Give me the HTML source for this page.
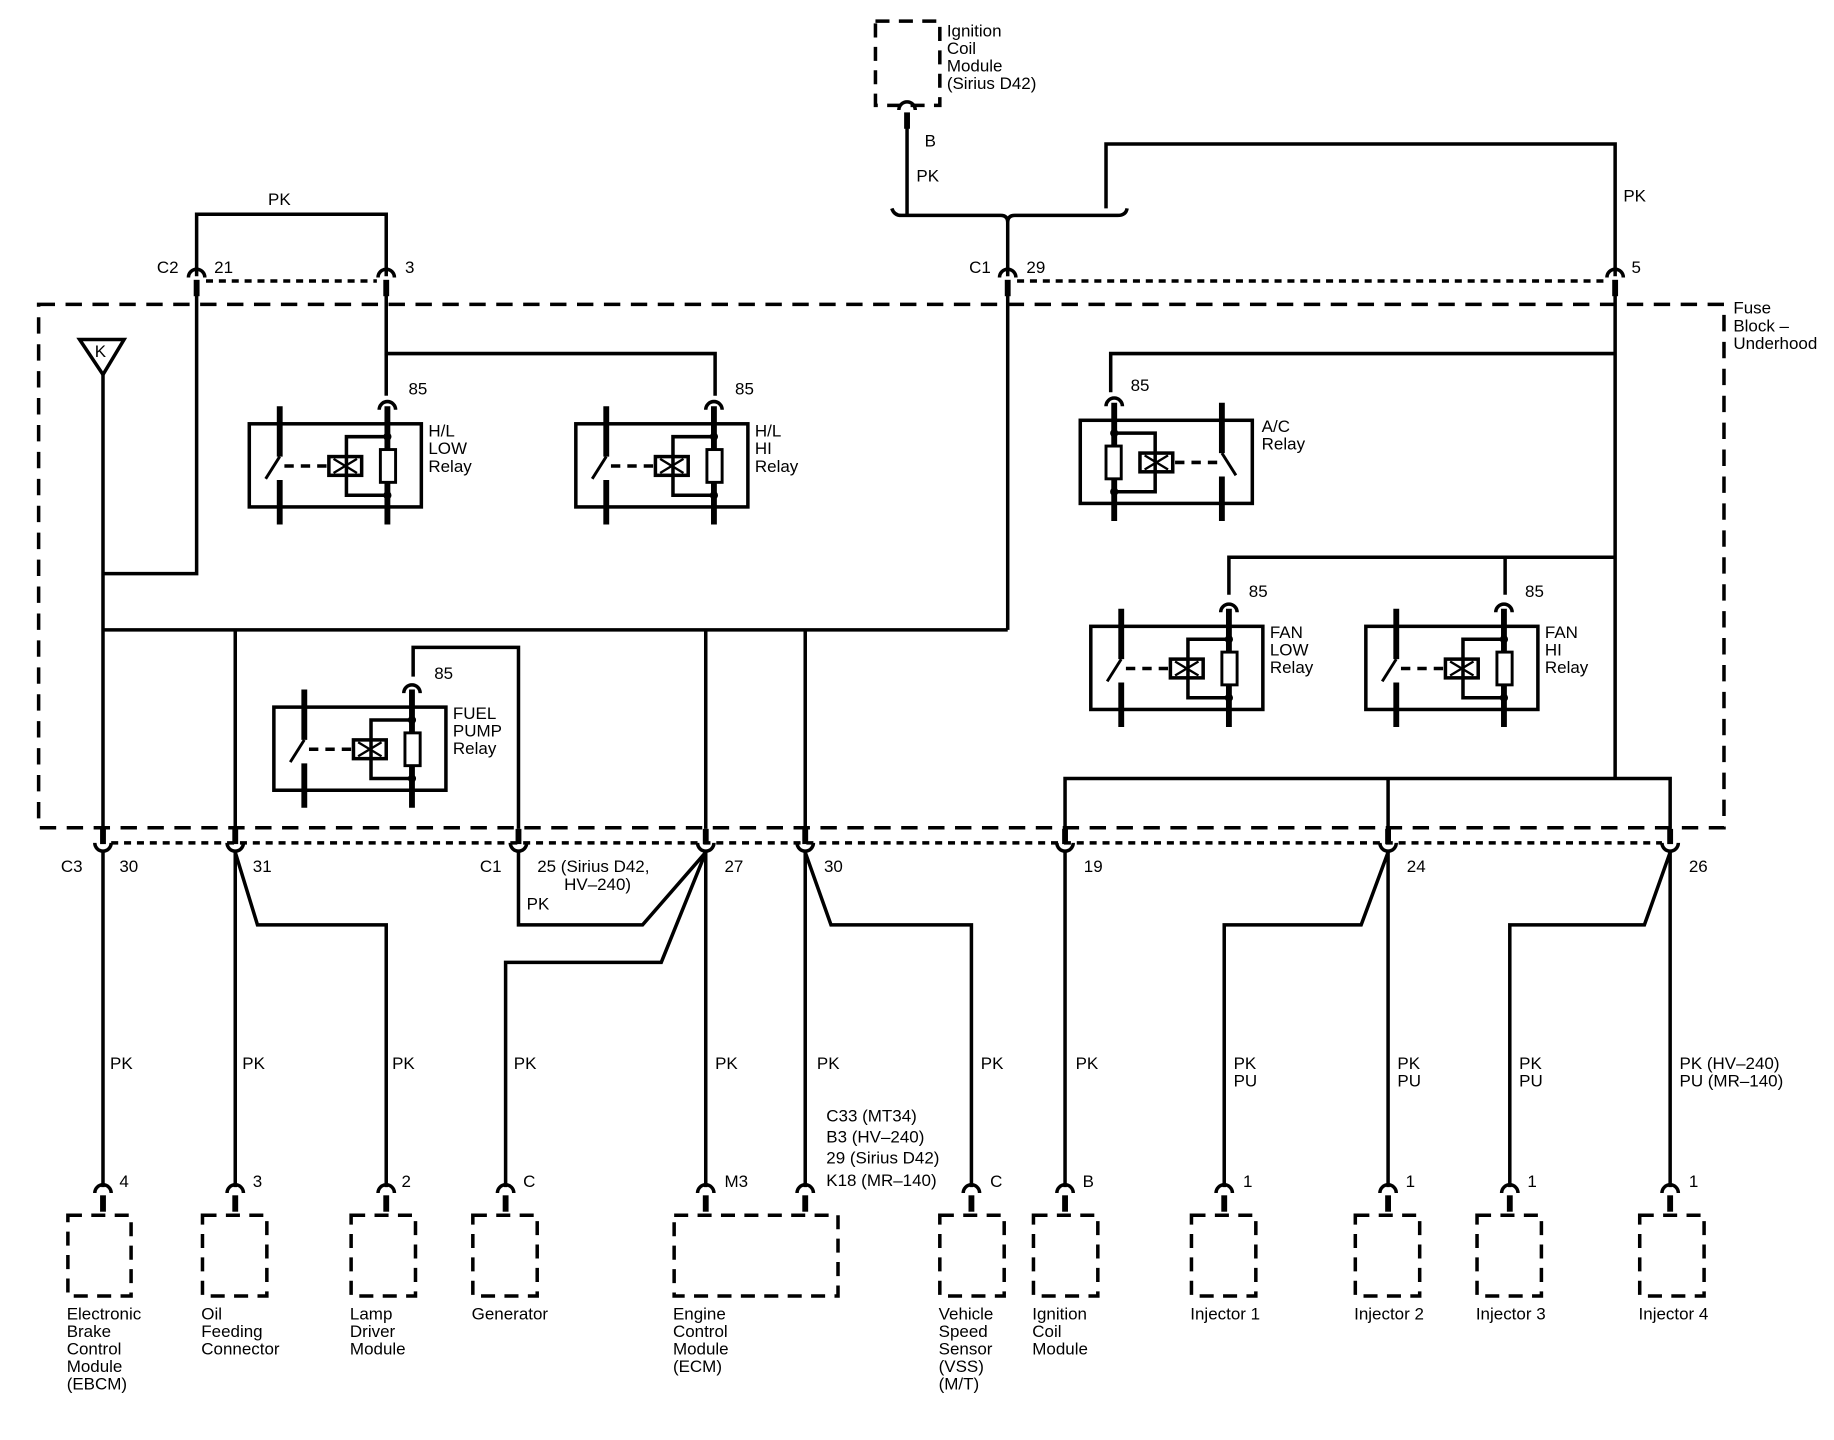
<!DOCTYPE html>
<html><head><meta charset="utf-8"><style>
html,body{margin:0;padding:0;background:#fff}
svg{display:block}
text{font-family:"Liberation Sans",Arial,sans-serif;font-size:14.5px;fill:#000}
</style></head><body>
<svg width="1834" height="1440" viewBox="0 0 1567 1230" preserveAspectRatio="none" xmlns="http://www.w3.org/2000/svg">
<defs>
<g id="relay" fill="none" stroke="#000">
<rect x="0" y="0" width="147" height="71" stroke-width="3"/>
<line x1="26" y1="-15" x2="26" y2="28" stroke-width="5"/>
<line x1="26" y1="28" x2="14" y2="47" stroke-width="2.5"/>
<line x1="26" y1="48" x2="26" y2="86" stroke-width="5"/>
<line x1="30" y1="36" x2="68" y2="36" stroke-width="3" stroke-dasharray="8,6"/>
<rect x="68" y="28" width="28" height="16" stroke-width="3"/>
<path d="M72 30 L92 42 M72 42 L92 30" stroke-width="2"/>
<polyline points="118,11 83,11 83,61 118,61" stroke-width="3"/>
<line x1="118" y1="-15" x2="118" y2="86" stroke-width="5"/>
<rect x="112" y="22" width="13" height="28" stroke-width="2.5" fill="#fff"/>
<circle cx="118" cy="11" r="3" fill="#000"/>
<circle cx="118" cy="61" r="3" fill="#000"/>
<path d="M111 -12 A7 7 0 0 1 125 -12" stroke-width="3"/>
</g>
<g id="cdown" fill="none" stroke="#000"><path d="M-7 -6 A7 7 0 0 1 7 -6" stroke-width="3"/><line x1="0" y1="-4" x2="0" y2="10" stroke-width="5"/></g>
<g id="cup" fill="none" stroke="#000"><path d="M-7 0 A7 7 0 0 0 7 0" stroke-width="3"/><line x1="0" y1="-12" x2="0" y2="1" stroke-width="5"/></g>
</defs>

<g fill="none" stroke="#000" stroke-width="3">
<!-- fuse block -->
<rect x="33" y="260" width="1440" height="447" stroke-dasharray="14,9"/>
<!-- top ignition coil -->
<rect x="748" y="18" width="55" height="72" stroke-dasharray="12,8"/>
<line x1="775" y1="108" x2="775" y2="183"/>
<path d="M762 178 Q764 184 770 184 L855 184 Q861 184 861 190 Q861 184 867 184 L955 184 Q962 184 963 178"/>
<line x1="861" y1="190" x2="861" y2="236"/>
<polyline points="945,178 945,123 1380,123 1380,236"/>
<polyline points="168,236 168,183 330,183 330,236"/>
<line x1="176" y1="240" x2="322" y2="240" stroke-dasharray="6,5"/>
<line x1="869" y1="240" x2="1372" y2="240" stroke-dasharray="6,5"/>
<!-- inside left -->
<polyline points="330,250 330,302 611,302 611,338"/>
<line x1="330" y1="302" x2="330" y2="338"/>
<line x1="88" y1="320" x2="88" y2="708"/>
<polyline points="88,490 168,490 168,250"/>
<line x1="88" y1="538" x2="861" y2="538"/>
<line x1="861" y1="250" x2="861" y2="538"/>
<line x1="201" y1="538" x2="201" y2="708"/>
<line x1="603" y1="538" x2="603" y2="708"/>
<line x1="688" y1="538" x2="688" y2="708"/>
<polyline points="353,578 353,553 443,553 443,708"/>
<!-- inside right -->
<line x1="1380" y1="250" x2="1380" y2="665"/>
<polyline points="949,335 949,302 1380,302"/>
<polyline points="1050,508 1050,476 1380,476"/>
<line x1="1286" y1="476" x2="1286" y2="508"/>
<polyline points="910,708 910,665 1427,665 1427,708"/>
<line x1="1186" y1="665" x2="1186" y2="708"/>
<!-- K triangle -->
<polygon points="68,290 106,290 88,320"/>
<!-- bottom dotted -->
<line x1="95" y1="720" x2="1420" y2="720" stroke-dasharray="6,5"/>
<!-- bottom wires -->
<line x1="88" y1="727" x2="88" y2="1014"/>
<line x1="201" y1="727" x2="201" y2="1014"/>
<polyline points="201,728 220,790 330,790 330,1014"/>
<polyline points="443,727 443,790 549,790 603,728"/>
<polyline points="603,728 565,822 432,822 432,1014"/>
<line x1="603" y1="727" x2="603" y2="1014"/>
<line x1="688" y1="727" x2="688" y2="1014"/>
<polyline points="688,728 710,790 830,790 830,1014"/>
<line x1="910" y1="727" x2="910" y2="1014"/>
<line x1="1186" y1="727" x2="1186" y2="1014"/>
<polyline points="1186,728 1163,790 1046,790 1046,1014"/>
<line x1="1427" y1="727" x2="1427" y2="1014"/>
<polyline points="1427,728 1405,790 1290,790 1290,1014"/>
<!-- component boxes -->
<g stroke-dasharray="12,8">
<rect x="58" y="1038" width="54" height="69"/>
<rect x="173" y="1038" width="55" height="69"/>
<rect x="300" y="1038" width="55" height="69"/>
<rect x="404" y="1038" width="55" height="69"/>
<rect x="576" y="1038" width="140" height="69"/>
<rect x="803" y="1038" width="55" height="69"/>
<rect x="883" y="1038" width="55" height="69"/>
<rect x="1018" y="1038" width="55" height="69"/>
<rect x="1158" y="1038" width="55" height="69"/>
<rect x="1262" y="1038" width="55" height="69"/>
<rect x="1401" y="1038" width="55" height="69"/>
</g>
</g>

<!-- relays -->
<use href="#relay" x="213" y="362"/>
<use href="#relay" x="492" y="362"/>
<use href="#relay" transform="translate(1070,359) scale(-1,1)"/>
<use href="#relay" x="932" y="535"/>
<use href="#relay" x="1167" y="535"/>
<use href="#relay" x="234" y="604"/>

<!-- connectors -->
<use href="#cdown" x="775" y="100"/>
<use href="#cdown" x="168" y="243"/>
<use href="#cdown" x="330" y="243"/>
<use href="#cdown" x="861" y="243"/>
<use href="#cdown" x="1380" y="243"/>
<g>
<use href="#cup" x="88" y="720"/><use href="#cup" x="201" y="720"/><use href="#cup" x="443" y="720"/>
<use href="#cup" x="603" y="720"/><use href="#cup" x="688" y="720"/><use href="#cup" x="910" y="720"/>
<use href="#cup" x="1186" y="720"/><use href="#cup" x="1427" y="720"/>
</g>
<g>
<use href="#cdown" x="88" y="1025"/><use href="#cdown" x="201" y="1025"/><use href="#cdown" x="330" y="1025"/>
<use href="#cdown" x="432" y="1025"/><use href="#cdown" x="603" y="1025"/><use href="#cdown" x="688" y="1025"/>
<use href="#cdown" x="830" y="1025"/><use href="#cdown" x="910" y="1025"/><use href="#cdown" x="1046" y="1025"/>
<use href="#cdown" x="1186" y="1025"/><use href="#cdown" x="1290" y="1025"/><use href="#cdown" x="1427" y="1025"/>
</g>

<!-- text -->
<text x="809" y="31">Ignition</text><text x="809" y="46">Coil</text><text x="809" y="61">Module</text><text x="809" y="76">(Sirius D42)</text>
<text x="790" y="125">B</text><text x="783" y="155">PK</text>
<text x="229" y="175">PK</text><text x="1387" y="172">PK</text>
<text x="134" y="233">C2</text><text x="183" y="233">21</text><text x="346" y="233">3</text>
<text x="828" y="233">C1</text><text x="877" y="233">29</text><text x="1394" y="233">5</text>
<text x="1481" y="268">Fuse</text><text x="1481" y="283">Block –</text><text x="1481" y="298">Underhood</text>
<text x="81" y="305" font-size="13">K</text>
<text x="349" y="337">85</text><text x="628" y="337">85</text><text x="966" y="334">85</text>
<text x="1067" y="510">85</text><text x="1303" y="510">85</text><text x="371" y="580">85</text>
<text x="366" y="373">H/L</text><text x="366" y="388">LOW</text><text x="366" y="403">Relay</text>
<text x="645" y="373">H/L</text><text x="645" y="388">HI</text><text x="645" y="403">Relay</text>
<text x="1078" y="369">A/C</text><text x="1078" y="384">Relay</text>
<text x="1085" y="545">FAN</text><text x="1085" y="560">LOW</text><text x="1085" y="575">Relay</text>
<text x="1320" y="545">FAN</text><text x="1320" y="560">HI</text><text x="1320" y="575">Relay</text>
<text x="387" y="614">FUEL</text><text x="387" y="629">PUMP</text><text x="387" y="644">Relay</text>
<text x="52" y="745">C3</text><text x="102" y="745">30</text><text x="216" y="745">31</text>
<text x="410" y="745">C1</text><text x="459" y="745">25 (Sirius D42,</text><text x="482" y="760">HV–240)</text>
<text x="450" y="777">PK</text>
<text x="619" y="745">27</text><text x="704" y="745">30</text><text x="926" y="745">19</text>
<text x="1202" y="745">24</text><text x="1443" y="745">26</text>
<text x="94" y="913">PK</text><text x="207" y="913">PK</text><text x="335" y="913">PK</text><text x="439" y="913">PK</text>
<text x="611" y="913">PK</text><text x="698" y="913">PK</text><text x="838" y="913">PK</text><text x="919" y="913">PK</text>
<text x="1054" y="913">PK</text><text x="1054" y="928">PU</text>
<text x="1194" y="913">PK</text><text x="1194" y="928">PU</text>
<text x="1298" y="913">PK</text><text x="1298" y="928">PU</text>
<text x="1435" y="913">PK (HV–240)</text><text x="1435" y="928">PU (MR–140)</text>
<text x="706" y="958">C33 (MT34)</text><text x="706" y="976">B3 (HV–240)</text><text x="706" y="994">29 (Sirius D42)</text><text x="706" y="1013">K18 (MR–140)</text>
<text x="102" y="1014">4</text><text x="216" y="1014">3</text><text x="343" y="1014">2</text><text x="447" y="1014">C</text>
<text x="619" y="1014">M3</text><text x="846" y="1014">C</text><text x="925" y="1014">B</text>
<text x="1062" y="1014">1</text><text x="1201" y="1014">1</text><text x="1305" y="1014">1</text><text x="1443" y="1014">1</text>
<text x="57" y="1127">Electronic</text><text x="57" y="1142">Brake</text><text x="57" y="1157">Control</text><text x="57" y="1172">Module</text><text x="57" y="1187">(EBCM)</text>
<text x="172" y="1127">Oil</text><text x="172" y="1142">Feeding</text><text x="172" y="1157">Connector</text>
<text x="299" y="1127">Lamp</text><text x="299" y="1142">Driver</text><text x="299" y="1157">Module</text>
<text x="403" y="1127">Generator</text>
<text x="575" y="1127">Engine</text><text x="575" y="1142">Control</text><text x="575" y="1157">Module</text><text x="575" y="1172">(ECM)</text>
<text x="802" y="1127">Vehicle</text><text x="802" y="1142">Speed</text><text x="802" y="1157">Sensor</text><text x="802" y="1172">(VSS)</text><text x="802" y="1187">(M/T)</text>
<text x="882" y="1127">Ignition</text><text x="882" y="1142">Coil</text><text x="882" y="1157">Module</text>
<text x="1017" y="1127">Injector 1</text><text x="1157" y="1127">Injector 2</text><text x="1261" y="1127">Injector 3</text><text x="1400" y="1127">Injector 4</text>
</svg>
</body></html>
